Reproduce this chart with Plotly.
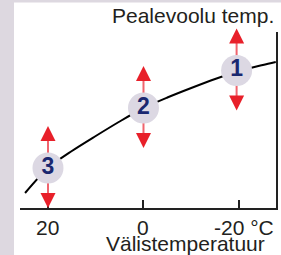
import plotly.graph_objects as go

# Heating curve: outside temperature (°C) vs relative supply level (axis units)
outside_temp = [24.8, 20, 15, 10, 5, 0, -5, -10, -15, -20, -25, -27.7]
supply_level = [15, 40, 57, 72, 86.5, 100, 110.5, 120, 129, 137, 143, 146]

# Numbered adjustment points on the curve
point_temp = [-19.5, 0, 20]
point_level = [137.5, 100, 40]
point_labels = ["1", "2", "3"]

tick_vals = [20, 0, -20]
tick_text = ["20", "0", "-20 °C"]

x_title = "Välistemperatuur"
y_title = "Pealevoolu temp."

RED = "#E8202A"
PINK = "#F0646E"
NAVY = "#1A2870"
TEXT = "#231F20"
STRIP = "#DDD8E0"
FONT = "Liberation Sans, Arial, sans-serif"

UP_TIP, UP_BASE, DN_BASE, DN_TIP = 42, 28, -26, -40

fig = go.Figure()

# curve
fig.add_trace(go.Scatter(
    x=outside_temp, y=supply_level, mode="lines",
    line=dict(color="black", width=2, shape="spline", smoothing=0.8),
    hoverinfo="skip", cliponaxis=False))

# light arrow shafts
sx, sy = [], []
for t, v in zip(point_temp, point_level):
    sx += [t, t, None]
    sy += [v + DN_BASE, v + UP_BASE, None]
fig.add_trace(go.Scatter(
    x=sx, y=sy, mode="lines", line=dict(color=PINK, width=2),
    hoverinfo="skip", cliponaxis=False))

# circles with numbers
fig.add_trace(go.Scatter(
    x=point_temp, y=point_level, mode="markers+text",
    marker=dict(size=31, color="#DCD8E3", line=dict(width=0)),
    text=point_labels,
    textposition="middle center",
    textfont=dict(family=FONT, size=23, color=NAVY, weight="bold"),
    hoverinfo="skip", cliponaxis=False))

annotations = []
# arrow heads
for t, v in zip(point_temp, point_level):
    for base, tip in ((UP_BASE, UP_TIP), (DN_BASE, DN_TIP)):
        annotations.append(dict(
            x=t, y=v + tip, ax=t, ay=v + base, xref="x", yref="y",
            axref="x", ayref="y", text="", showarrow=True,
            arrowhead=2, arrowsize=1.5, arrowwidth=2, arrowcolor=RED))

# tick labels
for tv, tt in zip(tick_vals, tick_text):
    if tt == tick_text[-1]:
        annotations.append(dict(x=1.0, xref="paper", xanchor="right",
                                y=-0.108, yref="paper", yanchor="middle",
                                text=tt, showarrow=False,
                                font=dict(family=FONT, size=21, color=TEXT)))
    else:
        annotations.append(dict(x=tv, xref="x", xanchor="center",
                                y=-0.108, yref="paper", yanchor="middle",
                                text=tt, showarrow=False,
                                font=dict(family=FONT, size=21, color=TEXT)))

annotations.append(dict(x=0.965, xref="paper", xanchor="right",
                        y=-0.2, yref="paper", yanchor="middle",
                        text=x_title, showarrow=False,
                        font=dict(family=FONT, size=21, color=TEXT)))
annotations.append(dict(x=1.0, xref="paper", xanchor="right",
                        y=1.094, yref="paper", yanchor="middle",
                        text=y_title, showarrow=False,
                        font=dict(family=FONT, size=21, color=TEXT)))

shapes = [
    dict(type="rect", xref="paper", yref="paper", x0=-0.0781, x1=-0.0234,
         y0=-0.27, y1=1.19, fillcolor=STRIP, line=dict(width=0), layer="below"),
    dict(type="rect", xref="paper", yref="paper", x0=-0.0781, x1=1.03,
         y0=1.1676, y1=1.19, fillcolor=STRIP, line=dict(width=0), layer="below"),
]

fig.update_layout(
    width=281, height=255,
    margin=dict(l=20, r=5, t=32, b=47),
    paper_bgcolor="white", plot_bgcolor="white",
    showlegend=False,
    annotations=annotations, shapes=shapes,
    xaxis=dict(range=[25.86, -27.75], showgrid=False, zeroline=False,
               showline=True, linecolor="#222", linewidth=1.5,
               ticks="inside", tickvals=tick_vals, ticklen=8, tickwidth=1.5,
               tickcolor="#222", showticklabels=False, fixedrange=True),
    yaxis=dict(range=[0, 176], side="right", showgrid=False, zeroline=False,
               showline=True, linecolor="#222", linewidth=1.5,
               ticks="", showticklabels=False, fixedrange=True),
)

fig.write_html(
    "out.html",
    config={"displayModeBar": False},
    post_script="document.body.style.margin='0px';document.body.style.overflow='hidden';",
)
